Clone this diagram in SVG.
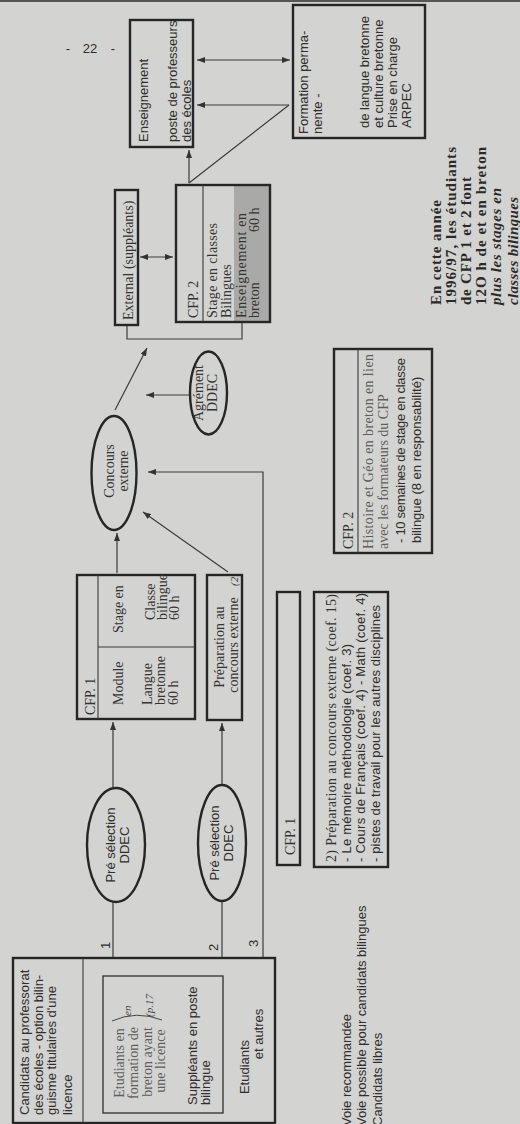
<svg xmlns="http://www.w3.org/2000/svg" width="520" height="1124" viewBox="0 0 520 1124">
<defs>
<marker id="ah" viewBox="0 0 8 6" refX="8" refY="3" markerWidth="8" markerHeight="6" markerUnits="userSpaceOnUse" orient="auto-start-reverse">
<path d="M0,0 L8,3 L0,6 z" fill="#333"/>
</marker>
<style>
.bx{fill:none;stroke:#262626;stroke-width:2.4}
.ib{fill:none;stroke:#3a3a3a;stroke-width:1.4}
.sep{fill:none;stroke:#3a3a3a;stroke-width:1.1}
.ln{fill:none;stroke:#3c3c3c;stroke-width:1.2}
.ar{fill:none;stroke:#3c3c3c;stroke-width:1.2;marker-end:url(#ah)}
.ar2{fill:none;stroke:#3c3c3c;stroke-width:1.2;marker-end:url(#ah);marker-start:url(#ah)}
.el{fill:none;stroke:#262626;stroke-width:2.4}
.s{font-family:"Liberation Sans",Arial,sans-serif;font-size:13px;fill:#2e2e2e}
.r{font-family:"Liberation Serif","Times New Roman",serif;font-size:14px;fill:#333}
.l{fill:#5e5e5e}
.b{font-family:"Liberation Serif","Times New Roman",serif;font-weight:bold;font-size:15px;fill:#2a2a2a}
.i{font-style:italic}
.c{text-anchor:middle}
.h{font-family:"Liberation Serif","Times New Roman",serif;font-style:italic;font-size:11px;fill:#444}
</style>
</defs>
<rect width="520" height="1124" fill="#d3d3d1"/>
<rect width="520" height="2" fill="#555"/>
<g id="page-number">
<text class="s c" x="68" y="53" font-size="14">-</text>
<text class="s c" x="90" y="53" font-size="14">22</text>
<text class="s c" x="113" y="53" font-size="14">-</text>
</g>
<g transform="translate(0,1124) rotate(-90)">
<g id="connectors">
<path class="ln" d="M166,113 L222,113"/>
<path class="ln" d="M166,222 L223,222"/>
<path class="ar" d="M166,263 L652,263 L652,148"/>
<path class="ar" d="M337,113 L402,113"/>
<path class="ar" d="M340,222 L401,222"/>
<path class="ar" d="M551,117 L591,117"/>
<path class="ar" d="M552,228 L612,143"/>
<path class="ar" d="M714,115 L776,147"/>
<path class="ar" d="M729,189 L729,146"/>
<path class="ln" d="M799,127 L785,127 L785,242 L802,242"/>
<path class="ar2" d="M867,140 L867,173"/>
<path class="ar" d="M941,189 L974,189"/>
<path class="ln" d="M941,189 L1019,289"/>
<path class="ar" d="M1019,289 L1019,197"/>
<path class="ar2" d="M1064,197 L1064,290"/>
<text class="s" x="175" y="110" font-size="12">1</text>
<text class="s" x="173" y="218" font-size="12">2</text>
<text class="s" x="177" y="258" font-size="12">3</text>
</g>
<g id="candidats">
<rect class="bx" x="1" y="13" width="165" height="262"/>
<line class="sep" x1="1" y1="83" x2="166" y2="83"/>
<text class="s" x="9" y="29">Candidats au professorat</text>
<text class="s" x="9" y="42.5">des écoles - option bilin-</text>
<text class="s" x="9" y="56">guisme titulaires d'une</text>
<text class="s" x="9" y="72">licence</text>
<rect class="ib" x="11" y="103" width="137" height="120"/>
<text class="r l c" x="61" y="124" font-size="16">Etudiants en</text>
<text class="r l c" x="61" y="138" font-size="16">formation de</text>
<text class="r l c" x="62" y="152" font-size="16">breton ayant</text>
<text class="r l c" x="63" y="165" font-size="16">une licence</text>
<path d="M103,112 Q114,136 104,162" fill="none" stroke="#444" stroke-width="1"/>
<text class="h" x="108" y="131">en</text>
<text class="h" x="107" y="153">(p.17</text>
<text class="s" x="19" y="197">Suppléants en poste</text>
<text class="s" x="19" y="210">bilingue</text>
<text class="s c" x="57" y="249">Etudiants</text>
<text class="s c" x="90" y="263">et autres</text>
</g>
<g id="preselection1">
<ellipse class="el" cx="279" cy="116" rx="57" ry="29"/>
<text class="s c" x="279" y="115">Pré sélection</text>
<text class="s c" x="279" y="129">DDEC</text>
</g>
<g id="preselection2">
<ellipse class="el" cx="281" cy="222" rx="58" ry="24"/>
<text class="s c" x="281" y="219">Pré sélection</text>
<text class="s c" x="281" y="233">DDEC</text>
</g>
<g id="cfp1">
<rect class="bx" x="405" y="77" width="144" height="118"/>
<line class="sep" x1="405" y1="98" x2="549" y2="98"/>
<line class="sep" x1="477" y1="98" x2="477" y2="195"/>
<text class="r" x="409" y="95">CFP. 1</text>
<text class="r" x="419" y="123">Module</text>
<text class="r" x="419" y="152">Langue</text>
<text class="r" x="419" y="165">bretonne</text>
<text class="r" x="419" y="178">60 h</text>
<text class="r" x="491" y="123">Stage en</text>
<text class="r" x="504" y="155">Classe</text>
<text class="r" x="504" y="167">bilingue</text>
<text class="r" x="504" y="179">60 h</text>
</g>
<g id="preparation">
<rect class="bx" x="404" y="207" width="145" height="35"/>
<text class="r c" x="477" y="224">Préparation au</text>
<text class="r c" x="479" y="238">concours externe</text>
<text class="h" x="538" y="238">(2</text>
</g>
<g id="concours">
<ellipse class="el" cx="651" cy="114" rx="57" ry="22.5"/>
<text class="r c" x="653" y="114">Concours</text>
<text class="r c" x="653" y="128">externe</text>
</g>
<g id="agrement">
<ellipse class="el" cx="731" cy="208.5" rx="41.5" ry="18.5"/>
<text class="r c" x="731" y="203">Agrément</text>
<text class="r c" x="731" y="217">DDEC</text>
</g>
<g id="external">
<rect class="bx" x="799" y="115" width="135" height="23"/>
<text class="r" x="804" y="133">External (suppléants)</text>
</g>
<g id="cfp2-top">
<rect x="803" y="234" width="135" height="35" fill="#a9a9a7"/>
<rect class="bx" x="802" y="176" width="137" height="94"/>
<line class="sep" x1="802" y1="203" x2="939" y2="203"/>
<text class="r" x="806" y="198">CFP. 2</text>
<text class="r" x="806" y="217" textLength="95">Stage en classes</text>
<text class="r" x="806" y="231">Bilingues</text>
<text class="r" x="806" y="246" textLength="105">Enseignement en</text>
<text class="r" x="806" y="259">breton</text>
<text class="r" x="892" y="259">60 h</text>
</g>
<g id="cfp2-bottom">
<rect class="bx" x="571" y="334" width="204" height="98"/>
<line class="sep" x1="571" y1="358" x2="775" y2="358"/>
<text class="r" x="575" y="353">CFP. 2</text>
<text class="r l" x="575" y="373" textLength="195">Histoire et Géo en breton en lien</text>
<text class="r l" x="575" y="388" font-size="12.5">avec les formateurs du CFP</text>
<text class="s" x="581" y="405" font-size="13.5" textLength="185">- 10 semaines de stage en classe</text>
<text class="s" x="581" y="421" font-size="12">bilingue (8 en responsabilité)</text>
</g>
<g id="cfp1-small">
<rect class="bx" x="259" y="277" width="273" height="23"/>
<text class="r" x="269" y="295">CFP. 1</text>
</g>
<g id="cfp1-text">
<rect class="bx" x="257" y="314" width="275" height="74"/>
<text class="r" x="262" y="336" textLength="268">2) Préparation au concours externe (coef. 15)</text>
<text class="s" x="262" y="351" font-size="13.5" textLength="218">- Le mémoire méthodologie (coef. 3)</text>
<text class="s" x="262" y="365" font-size="13.5" textLength="269">- Cours de Français (coef. 4) - Math (coef. 4)</text>
<text class="s" x="262" y="380" font-size="13.5" textLength="257">- pistes de travail pour les autres disciplines</text>
</g>
<g id="enseignement">
<rect class="bx" x="977" y="130" width="127" height="63"/>
<text class="s" x="982" y="148">Enseignement</text>
<text class="s" x="982" y="177">poste de professeurs</text>
<text class="s" x="982" y="191">des écoles</text>
</g>
<g id="formation">
<rect class="bx" x="986" y="293" width="133" height="132"/>
<text class="s" x="990" y="308">Formation perma-</text>
<text class="s" x="990" y="322">nente -</text>
<text class="s" x="996" y="369">de langue bretonne</text>
<text class="s" x="996" y="383">et culture bretonne</text>
<text class="s" x="996" y="397">Prise en charge</text>
<text class="s" x="996" y="411">ARPEC</text>
</g>
<g id="note">
<text class="b" x="819" y="441" textLength="105">En cette année</text>
<text class="b" x="819" y="456" textLength="158">1996/97, les étudiants</text>
<text class="b" x="819" y="471" textLength="128">de CFP 1 et 2 font</text>
<text class="b" x="819" y="486" textLength="158">12O h de et en breton</text>
<text class="b i" x="819" y="501" textLength="117">plus les stages en</text>
<text class="b i" x="819" y="518" textLength="108">classes bilingues</text>
</g>
<g id="legend">
<text class="s" x="-2" y="351">Voie recommandée</text>
<text class="s" x="-2" y="366">Voie possible pour candidats bilingues</text>
<text class="s" x="-2" y="382">Candidats libres</text>
</g>
</g>
</svg>
